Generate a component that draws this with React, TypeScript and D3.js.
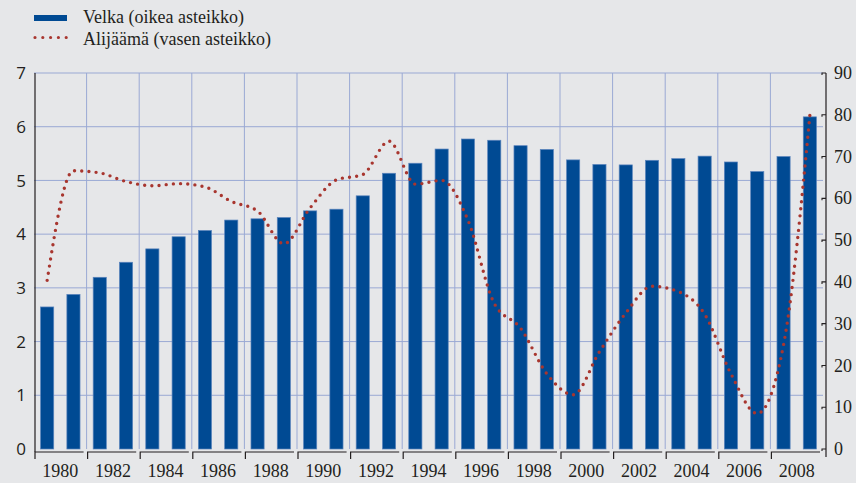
import {useEffect, useRef} from 'react';
import * as d3             from 'd3';

const years = d3.range(1980, 2010)
	, velka = [34, 37, 41.1, 44.7, 47.9, 50.8, 52.3, 54.8, 55.1, 55.4
		, 57.0, 57.4, 60.6, 66.0, 68.4, 71.8, 74.2, 73.9, 72.6, 71.7
		, 69.2, 68.1, 68.0, 69.1, 69.5, 70.1, 68.7, 66.4, 70.0, 79.5]
	, alijaama = [3.14, 5.18, 5.14, 4.98, 4.90, 4.94, 4.88, 4.61, 4.43, 3.82
		, 4.49, 5.01, 5.11, 5.73, 4.93, 5.00, 4.26, 2.71, 2.25, 1.40
		, 1.01, 1.81, 2.53, 3.03, 2.93, 2.51, 1.40, 0.66, 1.94, 6.21]
	, leftTicks = [0, 1, 2, 3, 4, 5, 6, 7]
	, rightTicks = [0, 10, 20, 30, 40, 50, 60, 70, 80, 90]
	, xLabels = [1980, 1982, 1984, 1986, 1988, 1990, 1992, 1994, 1996, 1998, 2000, 2002, 2004, 2006, 2008]
	, legendItems = ['Velka (oikea asteikko)', 'Alijäämä (vasen asteikko)']
	;

function App(){
	const svgRef = useRef<SVGSVGElement>(null)
		, W = 856
		, H = 483
		;

	useEffect(()=>{
		let svg = d3.select( svgRef.current )
			, left = 34
			, right = 823
			, top = 73
			, bottom = 449
			, x = d3.scaleBand<number>().domain( years ).range([left, right]).paddingInner(0.5).paddingOuter(0.25)
			, step = x.step()
			, yL = d3.scaleLinear().domain([0, 7]).range([bottom, top])
			, yR = d3.scaleLinear().domain([0, 90]).range([bottom, top])
			, grid = '#9aa9d4'
			, serif = "'Liberation Serif', 'Times New Roman', 'DejaVu Serif', serif"
			, sans = "'Open Sans', 'DejaVu Sans', sans-serif"
			, ink = '#231f20'
			, red = '#a8362f'
			, blue = '#004a93'
			, cx = (y: number)=>{
				return (x( y ) as number) + x.bandwidth() /2;
			}
			;

		svg.selectAll('*').remove();
		svg.append('rect').attr('width', W).attr('height', H).attr('fill', '#e6e7e9');

		// 图例
		svg.append('rect').attr('x', 34).attr('y', 15).attr('width', 33).attr('height', 6).attr('fill', blue);
		svg.append('line').attr('x1', 35).attr('x2', 66.5).attr('y1', 37.5).attr('y2', 37.5)
			.attr('stroke', red).attr('stroke-width', 3.2).attr('stroke-linecap', 'round').attr('stroke-dasharray', '0 7.8');
		svg.selectAll('text.legend').data( legendItems ).enter().append('text').attr('class', 'legend')
			.attr('x', 83).attr('y', (d, i)=>23 + i *21.5).style('font-family', serif).style('font-size', '18px')
			.attr('fill', ink).text((d)=>d);

		// 网格
		svg.selectAll('line.hgrid').data( leftTicks.slice(1) ).enter().append('line').attr('class', 'hgrid')
			.attr('x1', left).attr('x2', right).attr('y1', (d)=>yL(d)).attr('y2', (d)=>yL(d))
			.attr('stroke', grid).attr('stroke-width', 1);
		svg.selectAll('line.vgrid').data( d3.range(1, 15) ).enter().append('line').attr('class', 'vgrid')
			.attr('x1', (d)=>left + step *2 *d).attr('x2', (d)=>left + step *2 *d).attr('y1', top).attr('y2', bottom)
			.attr('stroke', grid).attr('stroke-width', 1);

		// 柱子
		svg.selectAll('rect.bar').data( velka ).enter().append('rect').attr('class', 'bar')
			.attr('x', (d, i)=>x( years[i] ) as number).attr('width', x.bandwidth())
			.attr('y', (d)=>yR(d)).attr('height', (d)=>bottom - yR(d))
			.attr('fill', blue).attr('stroke', '#5a84bd').attr('stroke-width', 0.7);

		// 折线
		let line = d3.line<number>().x((d, i)=>cx( years[i] )).y((d)=>yL(d)).curve( d3.curveMonotoneX );
		svg.append('path').datum( alijaama ).attr('d', line).attr('fill', 'none')
			.attr('stroke', red).attr('stroke-width', 3.4).attr('stroke-linecap', 'round').attr('stroke-dasharray', '0 7.2');

		// 左轴
		svg.append('line').attr('x1', 35).attr('x2', 35).attr('y1', top).attr('y2', 452).attr('stroke', ink).attr('stroke-width', 1.2);
		svg.selectAll('text.yl').data( leftTicks ).enter().append('text').attr('class', 'yl')
			.attr('x', 26).attr('y', (d)=>yL(d)).attr('dy', '0.36em').attr('text-anchor', 'end')
			.style('font-family', sans).style('font-size', '17px').attr('fill', ink).text((d)=>d);

		// 右轴
		svg.append('line').attr('x1', 826).attr('x2', 826).attr('y1', top).attr('y2', 457).attr('stroke', ink).attr('stroke-width', 1.2);
		svg.selectAll('path.yrt').data( rightTicks ).enter().append('path').attr('class', 'yrt')
			.attr('d', (d)=>`M822,${yR(d) + 2}V${yR(d)}H826`).attr('fill', 'none').attr('stroke', ink).attr('stroke-width', 1.1);
		svg.selectAll('text.yr').data( rightTicks ).enter().append('text').attr('class', 'yr')
			.attr('x', 834).attr('y', (d)=>yR(d)).attr('dy', '0.34em')
			.style('font-family', serif).style('font-size', '18px').attr('fill', ink).text((d)=>d);

		// 底轴
		svg.selectAll('path.xseg').data( d3.range(0, 15) ).enter().append('path').attr('class', 'xseg')
			.attr('d', (d)=>{
				let x0 = left + 1 + step *2 *d
					, x1 = left + step *2 *(d + 1) - 3
					;
				return `M${x0},459V452H${x1}`;
			}).attr('fill', 'none').attr('stroke', ink).attr('stroke-width', 1.2);
		svg.selectAll('text.xl').data( xLabels ).enter().append('text').attr('class', 'xl')
			.attr('x', (d)=>cx( d ) + step /2)
			.attr('y', 477).attr('text-anchor', 'middle')
			.style('font-family', serif).style('font-size', '18px').attr('fill', ink).text((d)=>d);
	}, []);

	return (<svg ref={svgRef}
	             width={W}
	             height={H}
	             style={{display: 'block', position: 'absolute', left: 0, top: 0}}></svg>);
}

export default App;
